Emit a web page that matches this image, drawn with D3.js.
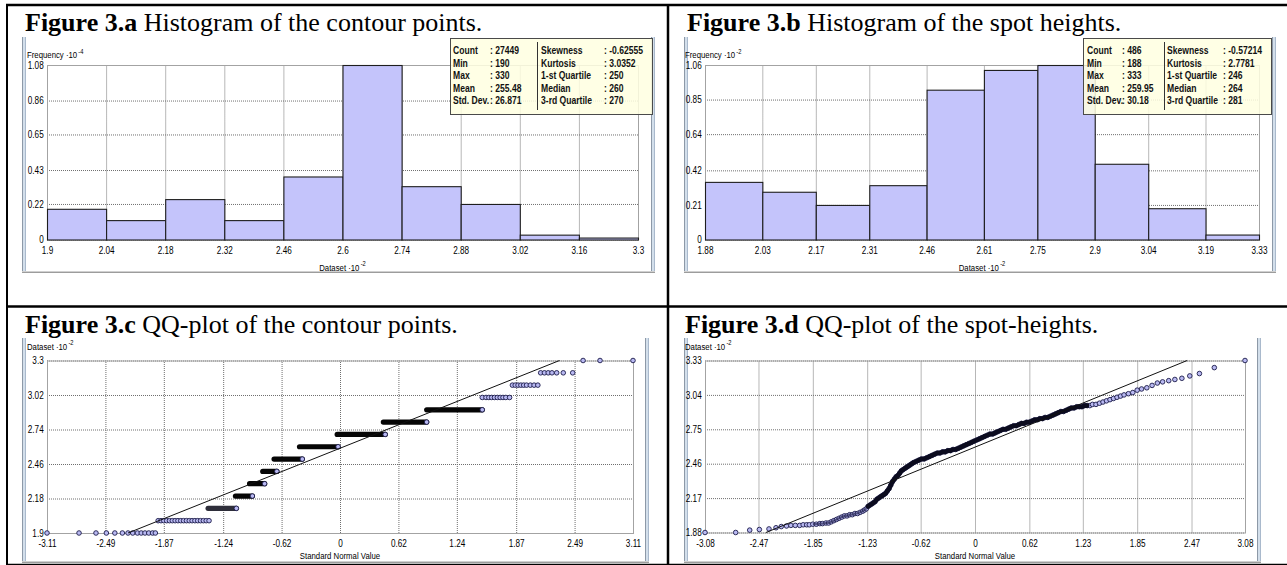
<!DOCTYPE html>
<html>
<head>
<meta charset="utf-8">
<script src="https://cdn.jsdelivr.net/npm/d3@7"></script>
<style>
  html, body { margin: 0; padding: 0; background: #fff; }
  svg { display: block; }
</style>
</head>
<body>
<svg id="fig" width="1287" height="565"></svg>
<script>
// ---------- Figure 3.a : histogram of the contour points ----------
const contourEdges = [1.9, 2.04, 2.18, 2.32, 2.46, 2.6, 2.74, 2.88, 3.02, 3.16, 3.3];   // Dataset ·10^-2
const contourFreq  = [0.19, 0.12, 0.25, 0.12, 0.39, 1.08, 0.33, 0.22, 0.03, 0.012];   // Frequency ·10^-4
const contourFreqTicks = [0, 0.22, 0.43, 0.65, 0.86, 1.08];
const contourStatsLeft  = [["Count", ": 27449"], ["Min", ": 190"], ["Max", ": 330"], ["Mean", ": 255.48"], ["Std. Dev.", ": 26.871"]];
const contourStatsRight = [["Skewness", ": -0.62555"], ["Kurtosis", ": 3.0352"], ["1-st Quartile", ": 250"], ["Median", ": 260"], ["3-rd Quartile", ": 270"]];

// ---------- Figure 3.b : histogram of the spot heights ----------
const spotEdges = [1.88, 2.03, 2.17, 2.31, 2.46, 2.61, 2.75, 2.9, 3.04, 3.19, 3.33];
const spotFreq  = [0.35, 0.29, 0.21, 0.33, 0.91, 1.03, 1.06, 0.46, 0.19, 0.03];       // Frequency ·10^-2
const spotFreqTicks = [0, 0.21, 0.42, 0.64, 0.85, 1.06];
const spotStatsLeft  = [["Count", ": 486"], ["Min", ": 188"], ["Max", ": 333"], ["Mean", ": 259.95"], ["Std. Dev.", ": 30.18"]];
const spotStatsRight = [["Skewness", ": -0.57214"], ["Kurtosis", ": 2.7781"], ["1-st Quartile", ": 246"], ["Median", ": 264"], ["3-rd Quartile", ": 281"]];

// ---------- Figure 3.c : QQ-plot of the contour points ----------
const qqContourXTicks = [-3.11, -2.49, -1.87, -1.24, -0.62, 0, 0.62, 1.24, 1.87, 2.49, 3.11];
const qqContourYTicks = [1.9, 2.18, 2.46, 2.74, 3.02, 3.3];
// individually visible points [normal quantile, value]
const qqContourPoints = [
  [-3.11, 1.9], [-2.77, 1.9], [-2.59, 1.9], [-2.48, 1.9], [-2.39, 1.9], [-2.31, 1.9], [-2.25, 1.9],
  [-2.20, 1.9], [-2.15, 1.9], [-2.11, 1.9], [-2.07, 1.9], [-2.03, 1.9], [-1.99, 1.9], [-1.96, 1.9],
  [-1.93, 2.0], [-1.90, 2.0], [-1.87, 2.0], [-1.84, 2.0], [-1.81, 2.0], [-1.78, 2.0], [-1.75, 2.0],
  [-1.72, 2.0], [-1.69, 2.0], [-1.66, 2.0], [-1.63, 2.0], [-1.60, 2.0], [-1.57, 2.0], [-1.54, 2.0],
  [-1.51, 2.0], [-1.48, 2.0], [-1.45, 2.0], [-1.42, 2.0], [-1.39, 2.0],
  [1.51, 3.0], [1.55, 3.0], [1.58, 3.0], [1.61, 3.0], [1.64, 3.0], [1.67, 3.0], [1.70, 3.0],
  [1.73, 3.0], [1.76, 3.0], [1.80, 3.0],
  [1.83, 3.1], [1.86, 3.1], [1.89, 3.1], [1.92, 3.1], [1.95, 3.1], [1.98, 3.1], [2.02, 3.1],
  [2.06, 3.1], [2.10, 3.1],
  [2.13, 3.2], [2.17, 3.2], [2.21, 3.2], [2.25, 3.2], [2.30, 3.2], [2.37, 3.2], [2.47, 3.2],
  [2.58, 3.3], [2.76, 3.3], [3.11, 3.3]
];
// runs of heavily overlapping points at one contour level [value, first quantile, last quantile]
const qqContourRuns = [
  [2.1, -1.40, -1.10], [2.2, -1.11, -0.93], [2.3, -0.96, -0.80], [2.4, -0.82, -0.67],
  [2.5, -0.70, -0.40], [2.6, -0.43, -0.02], [2.7, -0.03, 0.48], [2.8, 0.46, 0.92], [2.9, 0.92, 1.51]
];
const qqContourLine = [[-2.25, 1.9], [2.33, 3.3]];

// ---------- Figure 3.d : QQ-plot of the spot heights ----------
const qqSpotXTicks = [-3.08, -2.47, -1.85, -1.23, -0.62, 0, 0.62, 1.23, 1.85, 2.47, 3.08];
const qqSpotYTicks = [1.88, 2.17, 2.46, 2.75, 3.04, 3.33];
const qqSpotPoints = [
  [-3.08, 1.88], [-2.73, 1.88], [-2.57, 1.90], [-2.46, 1.905], [-2.35, 1.91], [-2.27, 1.92],
  [-2.21, 1.93], [-2.15, 1.935], [-2.10, 1.94], [-2.05, 1.94], [-2.00, 1.94], [-1.96, 1.945],
  [-1.92, 1.945], [-1.89, 1.945], [-1.85, 1.95], [-1.81, 1.95], [-1.77, 1.955], [-1.74, 1.955],
  [-1.70, 1.96], [-1.67, 1.96], [-1.64, 1.97], [-1.61, 1.98], [-1.58, 1.99], [-1.55, 2.00],
  [-1.52, 2.01], [-1.49, 2.02], [-1.46, 2.02], [-1.43, 2.03], [-1.40, 2.03], [-1.37, 2.04],
  [-1.34, 2.04], [-1.31, 2.05], [-1.28, 2.06], [-1.26, 2.07], [-1.24, 2.08], [-1.22, 2.10],
  [-1.20, 2.11], [-1.18, 2.12], [-1.16, 2.13], [-1.14, 2.14], [-1.12, 2.16], [-1.10, 2.17],
  [-1.08, 2.18], [-1.06, 2.19], [-1.04, 2.20], [-1.02, 2.21], [-1.00, 2.23], [-0.98, 2.25],
  [-0.96, 2.28], [-0.94, 2.31], [-0.92, 2.33], [-0.90, 2.35], [-0.88, 2.36], [-0.86, 2.38],
  [-0.84, 2.40], [-0.82, 2.41], [-0.80, 2.42], [-0.78, 2.43], [-0.76, 2.44], [-0.74, 2.45],
  [-0.72, 2.46], [-0.70, 2.47], [-0.67, 2.48], [-0.64, 2.49], [-0.61, 2.50], [-0.58, 2.50],
  [-0.55, 2.51], [-0.52, 2.52], [-0.49, 2.53], [-0.46, 2.54], [-0.43, 2.55], [-0.40, 2.55],
  [-0.37, 2.56], [-0.34, 2.56], [-0.31, 2.57], [-0.28, 2.57], [-0.25, 2.58], [-0.22, 2.58],
  [-0.19, 2.59], [-0.16, 2.60], [-0.13, 2.61], [-0.10, 2.62], [-0.07, 2.63], [-0.04, 2.64],
  [-0.01, 2.65], [0.02, 2.66], [0.05, 2.67], [0.08, 2.68], [0.11, 2.69], [0.14, 2.70],
  [0.17, 2.71], [0.20, 2.71], [0.23, 2.72], [0.26, 2.73], [0.29, 2.74], [0.32, 2.75],
  [0.35, 2.75], [0.38, 2.76], [0.41, 2.77], [0.44, 2.78], [0.47, 2.78], [0.50, 2.79],
  [0.53, 2.80], [0.56, 2.80], [0.59, 2.81], [0.62, 2.81], [0.65, 2.82], [0.68, 2.83],
  [0.71, 2.83], [0.74, 2.84], [0.77, 2.84], [0.80, 2.85], [0.83, 2.85], [0.86, 2.86],
  [0.89, 2.87], [0.92, 2.88], [0.95, 2.89], [0.98, 2.90], [1.01, 2.90], [1.04, 2.91],
  [1.07, 2.92], [1.10, 2.93], [1.13, 2.93], [1.16, 2.94], [1.19, 2.94], [1.22, 2.94],
  [1.25, 2.95], [1.28, 2.95], [1.31, 2.95], [1.34, 2.96], [1.38, 2.96], [1.42, 2.97],
  [1.46, 2.98], [1.50, 2.99], [1.54, 3.00], [1.58, 3.01], [1.62, 3.02], [1.66, 3.03],
  [1.70, 3.04], [1.75, 3.05], [1.80, 3.06], [1.85, 3.08], [1.90, 3.09], [1.96, 3.10],
  [2.02, 3.12], [2.08, 3.14], [2.14, 3.15], [2.21, 3.16], [2.28, 3.17], [2.36, 3.18],
  [2.45, 3.20], [2.56, 3.22], [2.73, 3.27], [3.08, 3.33]
];
const qqSpotLine = [[-2.385, 1.88], [2.42, 3.33]];

// ---------- drawing ----------
const SERIF = "'Liberation Serif','Times New Roman',serif";
const UI = "'Liberation Sans',Arial,sans-serif";
const NARROW = 0.82;
const svg = d3.select("#fig");

function uiText(parent, x, y, opts = {}) {
  return parent.append("text")
    .attr("transform", `translate(${x},${y}) scale(${opts.sx || NARROW},1)`)
    .attr("font-family", UI)
    .attr("font-size", opts.size || 9.5)
    .attr("font-weight", opts.weight || "normal")
    .attr("text-anchor", opts.anchor || "start")
    .attr("fill", opts.fill || "#000");
}

function scaledLabel(parent, x, y, base, exp, anchor) {
  const t = uiText(parent, x, y, { anchor });
  t.append("tspan").text(base);
  t.append("tspan").attr("dx", 1.5).attr("dy", -4.5).attr("font-size", 7).text(exp);
  return t;
}

function title(x, y, bold, rest) {
  const t = svg.append("text").attr("x", x).attr("y", y)
    .attr("font-family", SERIF).attr("font-size", 26).attr("fill", "#000");
  t.append("tspan").attr("font-weight", "bold").text(bold);
  t.append("tspan").text(rest);
}

function windowFrame(l, r, t, b) {
  const g = svg.append("g");
  [l, r].forEach(x => {
    g.append("rect").attr("x", x).attr("y", t).attr("width", 4).attr("height", b - t).attr("fill", "#d3dfeb");
    g.append("line").attr("x1", x + 0.5).attr("x2", x + 0.5).attr("y1", t).attr("y2", b).attr("stroke", "#8d99a7");
    g.append("line").attr("x1", x + 3.5).attr("x2", x + 3.5).attr("y1", t).attr("y2", b).attr("stroke", "#a9b9cc");
  });
  g.append("line").attr("x1", l).attr("x2", r + 4).attr("y1", b + 0.5).attr("y2", b + 0.5).attr("stroke", "#9c9c9c");
  g.append("line").attr("x1", l).attr("x2", r + 4).attr("y1", b - 0.5).attr("y2", b - 0.5).attr("stroke", "#d0d0d0");
}

function gridAndFrame(g, x, y, p, xTicks, yTicks) {
  const gx = g.append("g").attr("transform", `translate(0,${p.bottom})`)
    .call(d3.axisBottom(x).tickValues(xTicks).tickSize(-(p.bottom - p.top)).tickFormat(""));
  const gy = g.append("g").attr("transform", `translate(${p.left},0)`)
    .call(d3.axisLeft(y).tickValues(yTicks).tickSize(-(p.right - p.left)).tickFormat(""));
  [gx, gy].forEach(s => {
    s.select(".domain").remove();
    s.selectAll("line").attr("stroke", "#6f6f6f").attr("stroke-dasharray", "1,1");
  });
  g.append("rect").attr("x", p.left + 0.5).attr("y", p.top + 0.5)
    .attr("width", p.right - p.left).attr("height", p.bottom - p.top)
    .attr("fill", "none").attr("stroke", "#a3a3a3");
}

function tickLabels(g, x, y, p, xTicks, yTicks) {
  const ax = g.append("g").attr("transform", `translate(0,${p.bottom})`)
    .attr("font-family", UI).attr("font-size", 9.5)
    .call(d3.axisBottom(x).tickValues(xTicks).tickSize(0).tickPadding(7).tickFormat(d => String(d)));
  const ay = g.append("g").attr("transform", `translate(${p.left},0)`)
    .attr("font-family", UI).attr("font-size", 9.5)
    .call(d3.axisLeft(y).tickValues(yTicks).tickSize(0).tickPadding(4).tickFormat(d => String(d)));
  [ax, ay].forEach(s => {
    s.select(".domain").remove();
    s.selectAll("text").attr("fill", "#000").attr("transform", `scale(${NARROW},1)`);
  });
}

function statsBox(b, left, right) {
  const g = svg.append("g");
  g.append("rect").attr("x", b.x + 0.5).attr("y", b.y + 0.5).attr("width", b.w).attr("height", b.h)
    .attr("fill", "#ffffe1").attr("fill-opacity", 0.86).attr("stroke", "#4a4a4a");
  g.append("line").attr("x1", b.div + 0.5).attr("x2", b.div + 0.5)
    .attr("y1", b.y + 4).attr("y2", b.y + b.h - 4).attr("stroke", "#333");
  const rowY = i => b.y + 16 + i * 12.5;
  const opts = { size: 11, weight: "bold", sx: 0.78, fill: "#111" };
  left.forEach((r, i) => {
    uiText(g, b.c1, rowY(i), opts).text(r[0]);
    uiText(g, b.v1, rowY(i), opts).text(r[1]);
  });
  right.forEach((r, i) => {
    uiText(g, b.c2, rowY(i), opts).text(r[0]);
    uiText(g, b.v2, rowY(i), opts).text(r[1]);
  });
}

function histogram(p, edges, freq, yTicks, yExp, xExp, box, left, right) {
  const g = svg.append("g");
  const x = d3.scaleLinear().domain([edges[0], edges[edges.length - 1]]).range([p.left, p.right]);
  const y = d3.scaleLinear().domain([0, yTicks[yTicks.length - 1]]).range([p.bottom, p.top]);
  gridAndFrame(g, x, y, p, edges, yTicks);
  g.selectAll("rect.bar").data(freq).join("rect").attr("class", "bar")
    .attr("x", (d, i) => x(edges[i]) + 0.5)
    .attr("width", (d, i) => x(edges[i + 1]) - x(edges[i]))
    .attr("y", d => y(d) + 0.5)
    .attr("height", d => y(0) - y(d))
    .attr("fill", "#c4c4fb").attr("stroke", "#1e1e1e").attr("stroke-width", 1.1);
  tickLabels(g, x, y, p, edges, yTicks);
  scaledLabel(g, p.left - 20, p.top - 7, "Frequency ·10", yExp, "start");
  scaledLabel(g, (p.left + p.right) / 2, p.bottom + 31, "Dataset ·10", xExp, "middle");
  statsBox(box, left, right);
}

function qqPlot(p, xTicks, yTicks, points, runs, line, denseFrom, denseTo) {
  const g = svg.append("g");
  const x = d3.scaleLinear().domain([xTicks[0], xTicks[xTicks.length - 1]]).range([p.left, p.right]);
  const y = d3.scaleLinear().domain([yTicks[0], yTicks[yTicks.length - 1]]).range([p.bottom, p.top]);
  gridAndFrame(g, x, y, p, xTicks, yTicks);
  const marker = s => s.attr("r", 2.3).attr("fill", "#b9b9f2").attr("stroke", "#1b1b4a").attr("stroke-width", 0.9);
  // level runs where hundreds of markers overlap into a solid bar
  g.selectAll("line.run").data(runs).join("line").attr("class", "run")
    .attr("x1", d => x(d[1])).attr("x2", d => x(d[2]))
    .attr("y1", d => y(d[0])).attr("y2", d => y(d[0]))
    .attr("stroke", (d, i) => (i === 0 ? "#2e2e3a" : "#050505")).attr("stroke-width", 5.2)
    .attr("stroke-linecap", "round");
  g.selectAll("circle.runEnd").data(runs).join("circle").attr("class", "runEnd")
    .attr("cx", d => x(d[2])).attr("cy", d => y(d[0])).call(marker);
  g.selectAll("circle.pt").data(points).join("circle").attr("class", "pt")
    .attr("cx", d => x(d[0])).attr("cy", d => y(d[1])).call(marker);
  // where the sample is densest the overlapping outlines read as a dark band
  if (denseFrom !== undefined) {
    const dense = points.filter(d => d[0] >= denseFrom && d[0] <= denseTo);
    g.append("path").datum(dense)
      .attr("d", d3.line().x(d => x(d[0])).y(d => y(d[1])))
      .attr("fill", "none").attr("stroke", "#0b0b1e").attr("stroke-width", 4.6)
      .attr("stroke-linecap", "round").attr("stroke-linejoin", "round");
    const semi = points.filter(d => d[0] >= denseFrom - 0.65 && d[0] < denseFrom);
    g.append("path").datum(semi)
      .attr("d", d3.line().x(d => x(d[0])).y(d => y(d[1])))
      .attr("fill", "none").attr("stroke", "#2a2a55").attr("stroke-width", 2.2).attr("stroke-opacity", 0.7);
  }
  g.append("path").datum(line)
    .attr("d", d3.line().x(d => x(d[0])).y(d => y(d[1])))
    .attr("fill", "none").attr("stroke", "#111").attr("stroke-width", 1);
  tickLabels(g, x, y, p, xTicks, yTicks);
  scaledLabel(g, p.left - 20, p.top - 11, "Dataset ·10", "-2", "start");
  uiText(g, (p.left + p.right) / 2, p.bottom + 26, { anchor: "middle" }).text("Standard Normal Value");
}

// window frames of the four chart images
windowFrame(22, 651, 37, 272);
windowFrame(684, 1272, 37, 272);
windowFrame(22, 645, 338, 562);
windowFrame(684, 1257, 338, 562);

histogram({ left: 47, right: 638, top: 65, bottom: 239.5 }, contourEdges, contourFreq, contourFreqTicks, "-4", "-2",
  { x: 450, y: 38, w: 202, h: 76, div: 537, c1: 453, v1: 490, c2: 541, v2: 604 }, contourStatsLeft, contourStatsRight);
histogram({ left: 705, right: 1259, top: 65, bottom: 239.5 }, spotEdges, spotFreq, spotFreqTicks, "-2", "-2",
  { x: 1083, y: 38, w: 188, h: 76, div: 1164, c1: 1087, v1: 1122, c2: 1167, v2: 1223 }, spotStatsLeft, spotStatsRight);
qqPlot({ left: 47, right: 633, top: 360.5, bottom: 533 }, qqContourXTicks, qqContourYTicks, qqContourPoints, qqContourRuns, qqContourLine);
qqPlot({ left: 705, right: 1245, top: 360.5, bottom: 532.5 }, qqSpotXTicks, qqSpotYTicks, qqSpotPoints, [], qqSpotLine, -1.22, 1.28);

// captions
title(25, 31, "Figure 3.a", " Histogram of the contour points.");
title(687, 31, "Figure 3.b", " Histogram of the spot heights.");
title(25, 333, "Figure 3.c", " QQ-plot of the contour points.");
title(685, 333, "Figure 3.d", " QQ-plot of the spot-heights.");

// table rules
const rules = svg.append("g").attr("stroke", "#000");
rules.append("line").attr("x1", 6).attr("x2", 1287).attr("y1", 5).attr("y2", 5).attr("stroke-width", 2.5);
rules.append("line").attr("x1", 7).attr("x2", 7).attr("y1", 4).attr("y2", 565).attr("stroke-width", 2);
rules.append("line").attr("x1", 668).attr("x2", 668).attr("y1", 4).attr("y2", 565).attr("stroke-width", 2.5);
rules.append("line").attr("x1", 6).attr("x2", 1287).attr("y1", 306.5).attr("y2", 306.5).attr("stroke-width", 2.5);
rules.append("line").attr("x1", 6).attr("x2", 1287).attr("y1", 564.5).attr("y2", 564.5).attr("stroke-width", 1.5);
</script>
</body>
</html>
